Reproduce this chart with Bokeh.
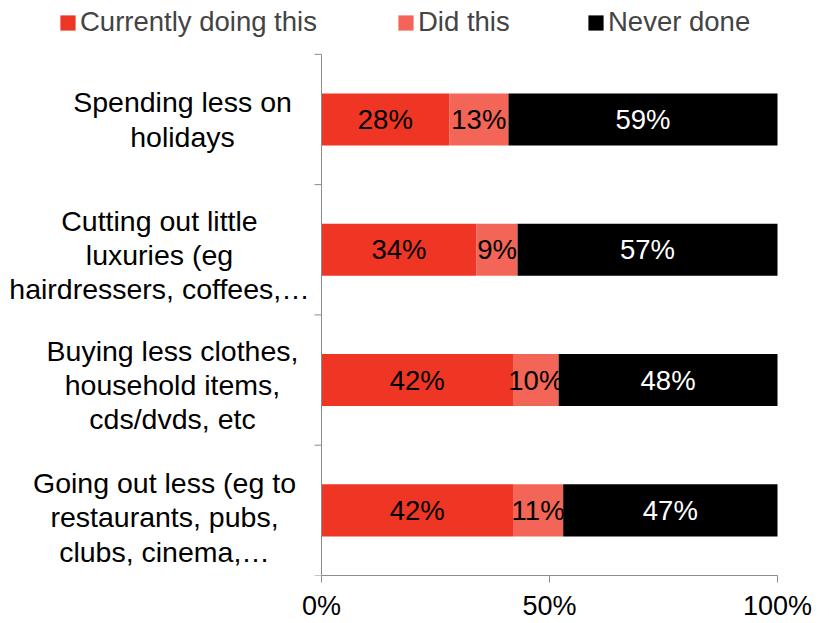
import math
from bokeh.plotting import figure
from bokeh.models import (Range1d, FixedTicker, Legend, LegendItem,
                          ColumnDataSource, PrintfTickFormatter)
from bokeh.core.properties import value
from bokeh.embed import file_html
from bokeh.resources import INLINE

# ---- data ----
categories = [
    "Spending less on\nholidays",
    "Cutting out little\nluxuries (eg\nhairdressers, coffees,…",
    "Buying less clothes,\nhousehold items,\ncds/dvds, etc",
    "Going out less (eg to\nrestaurants, pubs,\nclubs, cinema,…",
]
series_names = ["Currently doing this", "Did this", "Never done"]
currently = [28, 34, 42, 42]
did_this = [13, 9, 10, 11]
never_done = [59, 57, 48, 47]
x_ticks = [0, 50, 100]

# ---- styles / layout ----
FONT = "Liberation Sans"
FS = "27.5px"
CAT_FS = "28.5px"
TICK_FS = "27px"
colors = ["#EF3524", "#F36556", "#000000"]
label_colors = ["#000000", "#000000", "#FFFFFF"]
AXIS_COLOR = "#8C8C8C"
W, H = 829, 623
PLOT_L, PLOT_R, PLOT_T, PLOT_B = 321, 777, 54, 577
cat_label_dx = [-139, -162, -149, -157]    # label centre offsets from axis (px)
cat_label_dy = [0, 5, 5, 7]
legend_x = [58, 396, 586]                  # legend left edges (px)

n = len(categories)
ys = [n - i - 0.5 for i in range(n)]

xs = 100.0 / (PLOT_R - PLOT_L)
ys_per = n / (PLOT_B - PLOT_T)
p = figure(width=W, height=H, output_backend="svg", toolbar_location=None,
           x_range=Range1d(-PLOT_L * xs, 100 + (W - PLOT_R) * xs),
           y_range=Range1d(0, n + PLOT_T * ys_per),
           min_border_left=0, min_border_right=0,
           min_border_top=0, min_border_bottom=H - PLOT_B)
p.outline_line_color = None
p.grid.visible = False
p.yaxis.visible = False
p.background_fill_color = "white"
p.border_fill_color = "white"

series = [currently, did_this, never_done]
lefts = [0] * n
renderers = []
for s, vals in enumerate(series):
    rights = [l + v for l, v in zip(lefts, vals)]
    src = ColumnDataSource(dict(
        y=ys, left=lefts, right=rights,
        mid=[(l + r) / 2 for l, r in zip(lefts, rights)],
        txt=[f"{v}%" for v in vals]))
    r = p.hbar(y="y", left="left", right="right", height=0.4, source=src,
               fill_color=colors[s], line_color=None)
    p.text(x="mid", y="y", text="txt", source=src, text_align="center",
           text_baseline="middle", text_font=value(FONT), text_font_size=FS,
           text_color=label_colors[s])
    renderers.append(r)
    lefts = rights

# y axis: line and outward ticks at category boundaries
p.segment(x0=[0], y0=[0], x1=[0], y1=[n], line_color=AXIS_COLOR, line_width=1)
bounds = list(range(n + 1))
p.ray(x=[0] * len(bounds), y=bounds, length=7, length_units="screen",
      angle=math.pi, line_color=AXIS_COLOR, line_width=1)

# category labels
cat_src = ColumnDataSource(dict(x=[0] * n, y=ys, text=categories,
                                dx=cat_label_dx, dy=cat_label_dy))
p.text(x="x", y="y", text="text", x_offset="dx", y_offset="dy", source=cat_src,
       text_align="center", text_baseline="middle", text_font=value(FONT),
       text_font_size=CAT_FS, text_color="black", text_line_height=1.07)

# legends (one per item, Excel-like spacing)
for s in range(len(series_names)):
    lg = Legend(items=[LegendItem(label=series_names[s], renderers=[renderers[s]])],
                location=(legend_x[s], PLOT_B - 40), orientation="horizontal",
                padding=0, margin=0, border_line_color=None,
                background_fill_alpha=0, glyph_width=19, glyph_height=19,
                label_standoff=3, label_text_font=FONT, label_text_font_size=FS)
    p.add_layout(lg, "center")

# x axis
xa = p.xaxis[0]
xa.bounds = (0, 100)
xa.ticker = FixedTicker(ticks=x_ticks)
xa.formatter = PrintfTickFormatter(format="%d%%")
xa.major_tick_out = 7
xa.major_tick_in = 0
xa.minor_tick_out = 0
xa.minor_tick_in = 0
xa.axis_line_color = AXIS_COLOR
xa.major_tick_line_color = AXIS_COLOR
xa.major_label_text_font = FONT
xa.major_label_text_font_size = TICK_FS
xa.major_label_text_color = "black"
xa.major_label_standoff = 8

open("out.html", "w").write(file_html(p, INLINE))
